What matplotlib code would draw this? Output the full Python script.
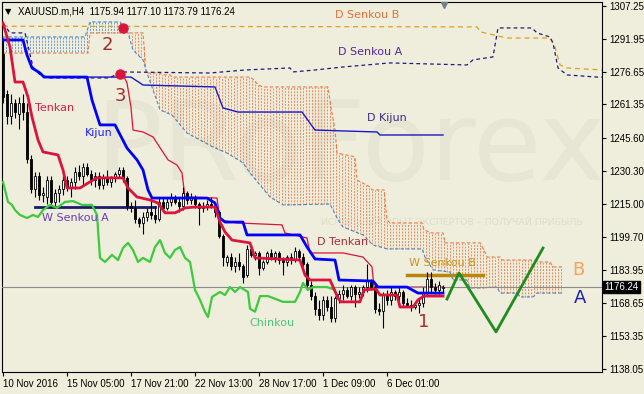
import numpy as np
import matplotlib
matplotlib.use("Agg")
import matplotlib.pyplot as plt
import matplotlib.transforms as mtransforms
from matplotlib.collections import LineCollection

# ---- H4 candles (bar index 0..110) ----
opens = [1285, 1266, 1256, 1262, 1257, 1262, 1258, 1236, 1222, 1228,
         1219, 1218, 1226, 1216, 1220, 1222, 1226, 1223, 1225, 1230,
         1228, 1232, 1229, 1226, 1228, 1224, 1227, 1225, 1227, 1229,
         1231, 1227, 1214, 1213, 1208, 1206, 1209, 1211, 1210, 1208,
         1216, 1213, 1216, 1218, 1216, 1214, 1220, 1217, 1218, 1215,
         1213, 1214, 1215, 1214, 1211, 1200, 1188, 1190, 1186, 1188,
         1186, 1182, 1194, 1191, 1192, 1185, 1188, 1192, 1190, 1192,
         1189, 1188, 1190, 1189, 1193, 1190, 1187, 1177, 1172, 1166,
         1163, 1170, 1167, 1162, 1171, 1173, 1175, 1172, 1176, 1173,
         1174, 1176, 1179, 1176, 1166, 1165, 1173, 1170, 1174, 1172,
         1174, 1169, 1168, 1167, 1168, 1169, 1174, 1180, 1176, 1175, 1175.94]
highs = [1292, 1268, 1266, 1264, 1265, 1266, 1262, 1238, 1230, 1230,
         1223, 1228, 1228, 1222, 1224, 1228, 1228, 1227, 1232, 1233,
         1234, 1234, 1231, 1230, 1230, 1229, 1231, 1228, 1230, 1232,
         1232, 1228, 1216, 1217, 1209, 1211, 1213, 1219, 1214, 1218,
         1218, 1218, 1220, 1219, 1218, 1223, 1221, 1220, 1219, 1216,
         1216, 1217, 1218, 1216, 1212, 1201, 1191, 1192, 1190, 1192,
         1187, 1196, 1196, 1193, 1193, 1189, 1193, 1194, 1193, 1193,
         1190, 1191, 1192, 1195, 1194, 1192, 1188, 1179, 1174, 1170,
         1172, 1172, 1172, 1172, 1175, 1177, 1176, 1177, 1177, 1176,
         1177, 1187, 1180, 1177, 1169, 1174, 1175, 1176, 1175, 1176,
         1175, 1171, 1170, 1169, 1171, 1176, 1183, 1183, 1178, 1179, 1177.10]
lows = [1262, 1252, 1252, 1255, 1250, 1254, 1234, 1220, 1218, 1217,
        1216, 1215, 1213, 1213, 1216, 1219, 1221, 1218, 1222, 1226,
        1224, 1228, 1224, 1223, 1222, 1222, 1224, 1223, 1225, 1227,
        1225, 1212, 1211, 1206, 1204, 1201, 1207, 1208, 1206, 1207,
        1211, 1212, 1214, 1215, 1211, 1212, 1215, 1215, 1213, 1205,
        1211, 1212, 1213, 1209, 1199, 1186, 1186, 1184, 1183, 1184,
        1178, 1181, 1190, 1189, 1182, 1184, 1187, 1189, 1188, 1187,
        1182, 1186, 1187, 1188, 1189, 1186, 1175, 1170, 1163, 1161,
        1161, 1165, 1160, 1160, 1169, 1170, 1171, 1170, 1167, 1171,
        1172, 1174, 1175, 1164, 1163, 1157, 1168, 1168, 1170, 1170,
        1167, 1167, 1165, 1166, 1164, 1167, 1172, 1174, 1173, 1173, 1173.79]
closes = [1265, 1256, 1262, 1258, 1262, 1258, 1236, 1222, 1228, 1219,
          1220, 1226, 1216, 1220, 1222, 1226, 1223, 1225, 1230, 1228,
          1232, 1229, 1226, 1228, 1224, 1227, 1225, 1227, 1229, 1231,
          1227, 1214, 1213, 1208, 1206, 1209, 1211, 1210, 1208, 1216,
          1213, 1216, 1218, 1216, 1214, 1220, 1217, 1218, 1215, 1213,
          1214, 1215, 1214, 1211, 1200, 1190, 1190, 1186, 1188, 1186,
          1181, 1194, 1191, 1192, 1185, 1188, 1192, 1190, 1192, 1189,
          1188, 1190, 1189, 1193, 1190, 1187, 1177, 1172, 1166, 1163,
          1170, 1167, 1162, 1171, 1173, 1175, 1172, 1176, 1173, 1174,
          1176, 1179, 1176, 1166, 1165, 1173, 1170, 1174, 1172, 1174,
          1169, 1168, 1167, 1168, 1169, 1174, 1180, 1176, 1175, 1177, 1176.24]

# ---- indicator lines, (bar, price) break points ----
tenkan = [(0, 1299.3), (1.75, 1288.1), (3, 1271.8), (5, 1271.8), (6.25, 1264.8),
          (7.25, 1255.5), (8.75, 1244.8), (10, 1239.2), (13.75, 1237.8), (15, 1230.8),
          (16, 1222.4), (19.25, 1222.4), (21.25, 1224.7), (23.5, 1227.1), (30, 1227.1),
          (31.25, 1222.4), (33.5, 1218.2), (36.75, 1216.8), (38.75, 1215.4), (40.5, 1210.8),
          (43, 1210.8), (45.5, 1213.1), (48, 1213.5), (53, 1213.5), (54.25, 1206.5),
          (55.5, 1201.9), (57.25, 1198.1), (61.75, 1196.8), (63, 1189.8), (68.5, 1189.3),
          (74.25, 1188.8), (75.5, 1181.8), (76.75, 1179.5), (81.75, 1179.5), (83.75, 1171.1),
          (84.5, 1169.3), (89.25, 1169.3), (90.25, 1174.9), (93.25, 1175.3), (94.25, 1172.5),
          (98.5, 1172.5), (99.25, 1166.9), (102.5, 1166.9), (103.75, 1170.2), (105.25, 1172.0),
          (110, 1172.0)]
kijun = [(0, 1291.4), (5, 1291.4), (6, 1284.4), (7.25, 1278.35), (9.25, 1276.0),
         (10.25, 1274.1), (21, 1274.1), (22.25, 1263.4), (24.25, 1251.8), (28, 1251.8),
         (31, 1241.0), (33.5, 1235.5), (35, 1230.8), (36.25, 1221.5), (37.25, 1217.7),
         (51, 1217.7), (53, 1215.4), (54.25, 1208.4), (55.5, 1206.5), (60, 1206.5),
         (61, 1200.5), (74.25, 1200.5), (76, 1194.9), (78, 1189.3), (83, 1188.8),
         (84, 1179.5), (92.5, 1179.0), (93.75, 1176.2), (101, 1176.2), (103.75, 1173.4),
         (110, 1173.4)]
chinkou = [(0, 1225.2), (1.25, 1215.9), (2.25, 1214.5), (3, 1212.1), (4.25, 1209.8),
           (6, 1208.4), (7.5, 1209.8), (8.75, 1208.9), (10, 1212.1), (11.75, 1214.5),
           (13.5, 1213.1), (15.5, 1215.9), (17.5, 1216.3), (19.75, 1214.5), (22.25, 1214.5),
           (23.5, 1209.8), (24.25, 1189.8), (25.5, 1187.9), (27.25, 1191.2), (28.75, 1188.8),
           (30, 1194.4), (31.25, 1196.8), (32.5, 1193.5), (33.75, 1187.9), (35, 1189.8),
           (36.75, 1187.9), (38, 1194.9), (39.25, 1198.1), (40.5, 1192.1), (41.75, 1189.8),
           (43, 1193.5), (44.25, 1194.9), (45.5, 1189.8), (46.75, 1187.9), (48, 1174.9),
           (49.25, 1170.2), (50.5, 1164.6), (51.25, 1162.2), (52.25, 1171.6), (54.25, 1173.9),
           (55.5, 1172.5), (56.75, 1176.2), (58, 1173.9), (59.25, 1176.2), (61.25, 1173.9),
           (61.75, 1166.1), (63, 1164.7), (64.25, 1172.0), (66.25, 1172.0), (67.5, 1171.1),
           (70, 1169.3), (73, 1169.3), (74.25, 1173.9), (75, 1178.1), (76.25, 1174.9),
           (77.5, 1176.2), (81, 1176.2), (83, 1174.9)]
senkou_a = [(0, 1292.8), (20.5, 1292.8), (21.75, 1299.8), (29.25, 1299.8), (31.25, 1294.7),
            (32.5, 1286.7), (35, 1282.1), (36, 1276.0), (37.25, 1269.5), (39.25, 1258.8),
            (42.25, 1256.4), (46, 1248.0), (52.5, 1241.5), (56, 1238.7), (60, 1234.1),
            (61.75, 1229.4), (66.75, 1218.2), (70, 1214.5), (81.75, 1214.9), (83.75, 1207.5),
            (85, 1204.2), (90, 1200.5), (92.5, 1195.8), (96, 1194.0), (104.75, 1194.0),
            (105.5, 1190.2), (107.5, 1184.2), (111.75, 1183.2), (112.5, 1179.5), (116, 1179.5),
            (116.75, 1175.8), (119.25, 1175.8), (123.5, 1176.2), (124.25, 1173.4), (128.5, 1173.4),
            (129.25, 1171.6), (132.5, 1171.6), (133.5, 1173.4), (140, 1173.4)]
senkou_b = [(0, 1285.3), (21.25, 1285.3), (21.75, 1294.7), (35, 1294.7), (35.75, 1276.0),
            (39.25, 1276.0), (39.75, 1275.1), (41.75, 1275.1), (42.25, 1274.1), (61.75, 1274.1),
            (62.75, 1272.8), (63.75, 1270.4), (65, 1269.5), (81.25, 1269.5), (82, 1260.0),
            (83, 1249.4), (83.5, 1238.7), (88, 1236.9), (88.5, 1226.1), (91.75, 1222.9),
            (92.25, 1221.5), (95.25, 1221.5), (96, 1207.5), (96.75, 1206.1), (104.75, 1206.1),
            (105.25, 1202.8), (107.25, 1201.4), (110, 1201.4), (110.5, 1196.8), (119.25, 1196.8),
            (120.25, 1193.5), (121, 1190.2), (124.25, 1190.2), (124.75, 1188.8), (133.5, 1188.8),
            (134.25, 1187.9), (136.75, 1187.9), (137.5, 1185.6), (140, 1185.6)]

# daily (D) and weekly (W) lines
d_tenkan = [(30, 1275.1), (31, 1271.4), (32, 1260.0), (32.5, 1249.4), (35, 1248.5),
            (37.5, 1246.2), (41.25, 1235.5), (43.5, 1233.1), (44.75, 1229.4), (45.5, 1218.2),
            (53.5, 1217.7), (54.25, 1207.5), (58.5, 1206.1), (69.75, 1205.2), (70.5, 1201.4),
            (76, 1199.1), (76.75, 1192.1), (85, 1192.1), (90, 1190.2), (92.25, 1185.6),
            (92.75, 1176.2), (110, 1176.2)]
d_kijun = [(10.25, 1274.1), (32, 1274.1), (35, 1270.4), (53, 1269.5), (55, 1259.7),
           (58.75, 1257.8), (74.75, 1257.8), (78, 1249.4), (93.5, 1248.5), (94.25, 1247.1),
           (110, 1247.1)]
d_senkou_a = [(0, 1299.3), (1.75, 1294.7), (5.5, 1294.7), (7.5, 1278.8), (9.25, 1275.1),
              (11.75, 1273.7), (26.75, 1273.7), (29.25, 1276.5), (51.75, 1276.0), (60.5, 1277.4),
              (71.75, 1278.35), (72.5, 1276.5), (78, 1277.4), (85, 1278.8), (96.75, 1280.7),
              (116, 1279.75), (117.5, 1282.1), (122.5, 1283.5), (123.75, 1297.0), (132.25, 1297.0),
              (133.5, 1294.7), (136.75, 1292.8), (137.5, 1290.0), (138.75, 1278.35), (141, 1275.1),
              (148.5, 1274.1), (150, 1274.1)]
d_senkou_b = [(0, 1297.8), (118.5, 1297.5), (119.25, 1295.2), (126, 1292.3), (136.75, 1292.3),
              (138, 1288.1), (139.25, 1279.75), (141, 1278.35), (150, 1277.4)]
w_senkou_a = [(8, 1213.5), (38, 1213.5)]
w_senkou_b = [(101, 1181.6), (120, 1181.6)]

forecast = [(111, 1170.6), (114, 1182.8), (123.25, 1155.3), (135, 1194.4)]

last_price = 1176.24
price_ticks = [1307.25, 1291.95, 1276.65, 1261.35, 1245.60, 1230.30,
               1215.00, 1199.70, 1183.95, 1168.65, 1153.35, 1138.05]
date_ticks = [0, 16, 32, 48, 64, 80, 96]
date_labels = ["10 Nov 2016", "15 Nov 05:00", "17 Nov 21:00", "22 Nov 13:00",
               "28 Nov 17:00", "1 Dec 09:00", "6 Dec 01:00"]

BG = "#EFEDDC"


def xy(points):
    arr = np.asarray(points, dtype=float)
    return arr[:, 0], arr[:, 1]


fig = plt.figure(figsize=(6.44, 3.94), dpi=100, facecolor=BG)
ax = fig.add_axes([2 / 644, 22 / 394, 600 / 644, 370 / 394], facecolor=BG)
ax.set_xlim(-0.25, 149.75)
ax.set_ylim(1136.6, 1309.1)

# faint watermark
ax.text(0.58, 0.60, "PRoForex", transform=ax.transAxes, ha="center", va="center",
        fontsize=80, color="#E7E5D4", zorder=0)
ax.text(0.75, 0.405, "ИСПОЛЬЗУЙ ОПЫТ ЭКСПЕРТОВ – ПОЛУЧАЙ ПРИБЫЛЬ", transform=ax.transAxes,
        ha="center", va="center", fontsize=6.8, color="#DEDCCC", zorder=0)

# H4 cloud: vertical dotted hatch between span A and span B
ax_, ay_ = xy(senkou_a)
bx_, by_ = xy(senkou_b)
hx = np.arange(0, 140.01, 0.75)
ha_ = np.interp(hx, ax_, ay_)
hb_ = np.interp(hx, bx_, by_)
segs_up = [[(x, a), (x, b)] for x, a, b in zip(hx, ha_, hb_) if a >= b]
segs_dn = [[(x, a), (x, b)] for x, a, b in zip(hx, ha_, hb_) if a < b]
ax.add_collection(LineCollection(segs_up, colors="#6C9AD0", linewidths=0.7,
                                 linestyles=[(0, (2, 1.3))], zorder=1))
ax.add_collection(LineCollection(segs_dn, colors="#F7895C", linewidths=0.7,
                                 linestyles=[(0, (2, 1.3))], zorder=1))
ax.plot(ax_, ay_, color="#4A86C8", lw=0.8, ls=(0, (3, 2)), zorder=2)
ax.plot(bx_, by_, color="#F07A4A", lw=0.8, ls=(0, (3, 2)), zorder=2)

# daily / weekly levels
ax.plot(*xy(d_senkou_b), color="#E0A020", lw=0.9, ls=(0, (4, 3)), zorder=2)
ax.plot(*xy(d_senkou_a), color="#1C1C78", lw=0.9, ls=(0, (3, 2.5)), zorder=2)
ax.plot(*xy(d_kijun), color="#1818C8", lw=1.0, zorder=3)
ax.plot(*xy(d_tenkan), color="#DC143C", lw=0.9, zorder=3)
ax.plot(*xy(w_senkou_a), color="#1C1C6E", lw=2.0, zorder=3)
ax.plot(*xy(w_senkou_b), color="#B8860B", lw=2.5, zorder=3)

ax.axhline(last_price, color="#8C8C8C", lw=0.8, zorder=3)

# candles
idx = np.arange(len(closes))
o = np.array(opens)
c = np.array(closes)
ax.vlines(idx, lows, highs, color="black", lw=0.8, zorder=4)
bull = c >= o
body_bottom = np.minimum(o, c)
body_height = np.maximum(np.abs(c - o), 0.4)
ax.bar(idx[bull], body_height[bull], bottom=body_bottom[bull], width=0.6,
       color="white", edgecolor="black", linewidth=0.6, zorder=4)
ax.bar(idx[~bull], body_height[~bull], bottom=body_bottom[~bull], width=0.6,
       color="black", edgecolor="black", linewidth=0.6, zorder=4)

# H4 lines
ax.plot(*xy(chinkou), color="#3CCB3C", lw=1.6, zorder=5)
ax.plot(*xy(kijun), color="#0000FF", lw=2.0, zorder=5)
ax.plot(*xy(tenkan), color="#DC143C", lw=2.0, zorder=5)

ax.plot(*xy(forecast), color="#1E8C1E", lw=2.0, zorder=5)

# marked points
ax.plot([30, 29.25], [1297.0, 1275.6], "o", color="#DC143C", ms=6.5, zorder=6)

# labels
lbl = dict(ha="center", va="center", fontsize=8, zorder=7)
ax.text(91, 1303.0, "D Senkou B", color="#E4703A", **lbl)
ax.text(91.75, 1285.8, "D Senkou A", color="#5A2696", **lbl)
ax.text(96, 1255.0, "D Kijun", color="#3A2A86", **lbl)
ax.text(13, 1259.7, "Tenkan", color="#DC1E46", **lbl)
ax.text(24, 1248.0, "Kijun", color="#2020FF", **lbl)
ax.text(18, 1208.4, "W Senkou A", color="#6A3CC0", **lbl)
ax.text(85, 1197.2, "D Tenkan", color="#A8303A", **lbl)
ax.text(109.75, 1187.4, "W Senkou B", color="#C8961E", **lbl)
ax.text(67.25, 1159.5, "Chinkou", color="#48C878", **lbl)
big = dict(ha="center", va="center", fontsize=13, zorder=7)
ax.text(26, 1289.1, "2", color="#A52A2A", **big)
ax.text(29.25, 1265.3, "3", color="#A52A2A", **big)
ax.text(105.25, 1160.0, "1", color="#B03030", **big)
ax.text(143.75, 1184.2, "B", color="#F4A460", **big)
ax.text(144.25, 1171.1, "A", color="#1E1EB4", **big)

# axes look
for s in ax.spines.values():
    s.set_color("black")
    s.set_linewidth(0.8)
ax.yaxis.tick_right()
ax.set_yticks(price_ticks)
ax.set_yticklabels([f"{v:.2f}" for v in price_ticks])
ax.tick_params(axis="y", direction="out", length=3, width=0.8, pad=2,
               labelsize=7, labelfontfamily="Liberation Sans")
ax.set_xticks(date_ticks)
ax.set_xticklabels(date_labels)
ax.tick_params(axis="x", direction="out", length=3, width=0.8, pad=2,
               labelsize=7, labelfontfamily="Liberation Sans")
for t in ax.get_xticklabels():
    t.set_ha("left")

# last price tag on the scale
tr = mtransforms.blended_transform_factory(ax.transAxes, ax.transData)
ax.text(1.004, last_price, f"{last_price:.2f}", transform=tr, ha="left", va="center",
        fontsize=7, family="Liberation Sans", color="white", zorder=8, clip_on=False,
        bbox=dict(boxstyle="square,pad=0.15", fc="black", ec="black"))

# header
fig.text(8 / 644, 1 - 12 / 394, "▼", fontsize=6, va="center", ha="center", color="black")
fig.text(18 / 644, 1 - 12 / 394, "XAUUSD.m,H4  1175.94 1177.10 1173.79 1176.24",
         fontsize=7, va="center", ha="left", family="Liberation Sans", color="black")
ax.plot([110.25], [1307.6], marker="v", color="#708090", ms=5, clip_on=False, zorder=8)

fig.savefig("out.png", dpi=100, facecolor=BG)
